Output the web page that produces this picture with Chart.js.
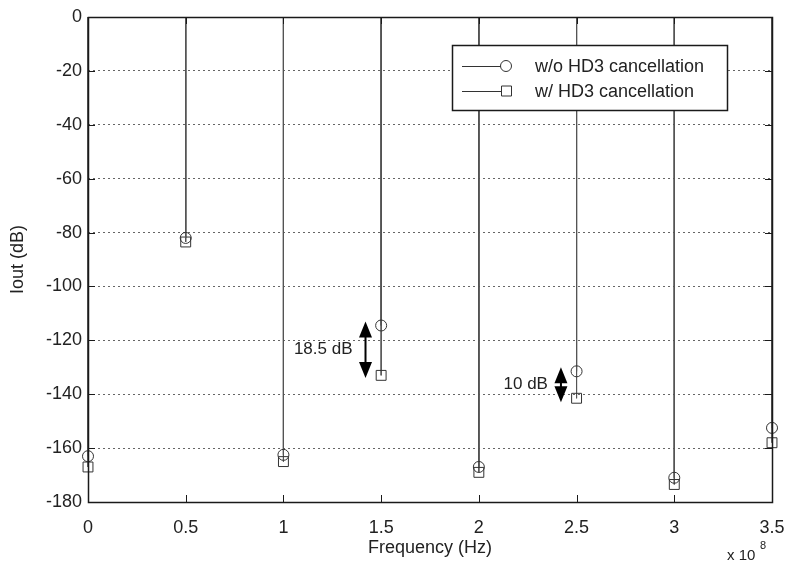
<!DOCTYPE html>
<html>
<head>
<meta charset="utf-8">
<script src="https://cdn.jsdelivr.net/npm/chart.js@4.4.0/dist/chart.umd.min.js"></script>
<style>
  body { margin: 0; background: #fff; }
  #wrap { width: 785px; height: 568px; }
</style>
</head>
<body>
<div id="wrap"><canvas id="grafica" width="785" height="568"></canvas></div>
<script>
// datos
const frecuencias = [0, 0.5e8, 1e8, 1.5e8, 2e8, 2.5e8, 3e8, 3.5e8];
const sinCancelacion = [-163, -82, -162.5, -114.5, -167, -131.5, -171, -152.5];
const conCancelacion = [-167, -83.5, -165, -133, -169, -141.5, -173.5, -158];
const nombresSeries = ['w/o HD3 cancellation', 'w/ HD3 cancellation'];
const ticksX = [0, 0.5e8, 1e8, 1.5e8, 2e8, 2.5e8, 3e8, 3.5e8];
const ticksY = [0, -20, -40, -60, -80, -100, -120, -140, -160, -180];
const notasTexto = ['18.5 dB', '10 dB'];
const notasX = [1.42e8, 2.42e8];
const notasDesde = [-113, -130];
const notasHasta = [-134, -143];

const FUENTE = 'Liberation Sans, Arial, sans-serif';
const NEGRO = '#1a1a1a';

// cada tallo: del 0 al valor, luego un hueco
function tallos(valores) {
    const pts = [];
    frecuencias.forEach((f, i) => {
        pts.push({ x: f, y: 0 }, { x: f, y: valores[i] }, { x: f, y: null });
    });
    return pts;
}

const cajaEjes = {
    id: 'cajaEjes',
    afterDatasetsDraw(chart) {
        const { ctx, chartArea: a, scales } = chart;
        ctx.save();
        ctx.strokeStyle = NEGRO;
        ctx.lineWidth = 1.5;
        ctx.strokeRect(a.left + 0.5, a.top + 0.5, a.right - a.left, a.bottom - a.top);
        ctx.lineWidth = 1;
        ticksY.forEach(v => {
            const y = Math.round(scales.y.getPixelForValue(v)) + 0.5;
            ctx.beginPath();
            ctx.moveTo(a.left, y); ctx.lineTo(a.left + 7, y);
            ctx.moveTo(a.right, y); ctx.lineTo(a.right - 7, y);
            ctx.stroke();
        });
        ticksX.forEach(v => {
            const x = Math.round(scales.x.getPixelForValue(v)) + 0.5;
            ctx.beginPath();
            ctx.moveTo(x, a.bottom); ctx.lineTo(x, a.bottom - 7);
            ctx.moveTo(x, a.top); ctx.lineTo(x, a.top + 7);
            ctx.stroke();
        });

        // flechas y textos
        notasTexto.forEach((t, i) => {
            const x = scales.x.getPixelForValue(notasX[i]);
            const y1 = scales.y.getPixelForValue(notasDesde[i]);
            const y2 = scales.y.getPixelForValue(notasHasta[i]);
            ctx.fillStyle = '#000';
            ctx.strokeStyle = '#000';
            ctx.lineWidth = 2;
            ctx.beginPath();
            ctx.moveTo(x, y1 + 12); ctx.lineTo(x, y2 - 12);
            ctx.stroke();
            ctx.beginPath();
            ctx.moveTo(x, y1); ctx.lineTo(x - 6.5, y1 + 16); ctx.lineTo(x + 6.5, y1 + 16); ctx.closePath();
            ctx.fill();
            ctx.beginPath();
            ctx.moveTo(x, y2); ctx.lineTo(x - 6.5, y2 - 16); ctx.lineTo(x + 6.5, y2 - 16); ctx.closePath();
            ctx.fill();
            ctx.font = '17px ' + FUENTE;
            ctx.fillStyle = '#222';
            ctx.textAlign = 'right';
            ctx.textBaseline = 'middle';
            ctx.fillText(t, x - 13, (y1 + y2) / 2);
        });

        // x 10^8
        ctx.fillStyle = '#222';
        ctx.textAlign = 'left';
        ctx.textBaseline = 'alphabetic';
        ctx.font = '15px ' + FUENTE;
        ctx.fillText('x 10', a.right - 45, 560);
        ctx.font = '11px ' + FUENTE;
        ctx.fillText('8', a.right - 12, 549);
        ctx.restore();
    }
};

const leyenda = {
    id: 'leyendaMatlab',
    afterDatasetsDraw(chart) {
        const { ctx, chartArea: a } = chart;
        const x0 = a.right - 320, y0 = a.top + 28, w = 275, h = 65;
        ctx.save();
        ctx.fillStyle = '#fff';
        ctx.fillRect(x0, y0, w, h);
        ctx.strokeStyle = NEGRO;
        ctx.lineWidth = 1.5;
        ctx.strokeRect(x0 + 0.5, y0 + 0.5, w, h);
        nombresSeries.forEach((nombre, i) => {
            const y = y0 + 21 + i * 25;
            ctx.strokeStyle = '#333';
            ctx.lineWidth = 1;
            ctx.beginPath();
            ctx.moveTo(x0 + 10, y + 0.5); ctx.lineTo(x0 + 54, y + 0.5);
            ctx.stroke();
            ctx.beginPath();
            if (i === 0) ctx.arc(x0 + 54, y, 5.5, 0, Math.PI * 2);
            else ctx.rect(x0 + 49.5, y - 5, 10, 10);
            ctx.fillStyle = '#fff';
            ctx.fill();
            ctx.stroke();
            ctx.fillStyle = '#222';
            ctx.font = '18px ' + FUENTE;
            ctx.textAlign = 'left';
            ctx.textBaseline = 'middle';
            ctx.fillText(nombre, x0 + 83, y + 1);
        });
        ctx.restore();
    }
};

const ctx = document.getElementById('grafica').getContext('2d');
new Chart(ctx, {
    type: 'line',
    data: {
        datasets: [{
            label: nombresSeries[0],
            data: tallos(sinCancelacion),
            borderColor: '#555',
            borderWidth: 1,
            pointStyle: 'circle',
            pointRadius: c => (c.index % 3 === 1 ? 5.5 : 0),
            pointBorderColor: '#333',
            pointBackgroundColor: 'rgba(255,255,255,0)',
            pointBorderWidth: 1,
            spanGaps: false,
            clip: false
        }, {
            label: nombresSeries[1],
            data: tallos(conCancelacion),
            borderColor: '#555',
            borderWidth: 1,
            pointStyle: 'rect',
            pointRadius: c => (c.index % 3 === 1 ? 7 : 0),
            pointBorderColor: '#333',
            pointBackgroundColor: 'rgba(255,255,255,0)',
            pointBorderWidth: 1,
            spanGaps: false,
            clip: false
        }]
    },
    options: {
        responsive: false,
        animation: false,
        layout: { padding: { left: 0, right: 13, top: 17, bottom: 0 } },
        plugins: {
            legend: { display: false },
            tooltip: { enabled: false }
        },
        scales: {
            x: {
                type: 'linear',
                min: 0,
                max: 3.5e8,
                afterBuildTicks: s => { s.ticks = ticksX.map(v => ({ value: v })); },
                afterFit: s => { s.height = 66; s.paddingLeft = 0; s.paddingRight = 0; },
                grid: { display: false },
                border: { display: false },
                ticks: {
                    maxRotation: 0,
                    autoSkip: false,
                    padding: 7,
                    color: '#222',
                    font: { size: 18, family: FUENTE },
                    callback: v => String(Math.round(v / 1e7) / 10)
                },
                title: {
                    display: true,
                    text: 'Frequency (Hz)',
                    color: '#222',
                    font: { size: 18, family: FUENTE },
                    padding: { top: 0, bottom: 9 }
                }
            },
            y: {
                min: -180,
                max: 0,
                afterBuildTicks: s => { s.ticks = ticksY.map(v => ({ value: v })); },
                afterFit: s => { s.width = 88; s.paddingTop = 0; s.paddingBottom = 0; },
                grid: {
                    color: '#666',
                    borderDash: [2, 3],
                    drawTicks: false,
                    lineWidth: c => (c.tick.value === 0 || c.tick.value === -180 ? 0 : 1)
                },
                border: { display: false, dash: [2, 3] },
                ticks: {
                    padding: 6,
                    color: '#222',
                    font: { size: 18, family: FUENTE }
                },
                title: {
                    display: true,
                    text: 'Iout (dB)',
                    color: '#222',
                    font: { size: 18, family: FUENTE },
                    padding: { top: 7, bottom: 0 }
                }
            }
        }
    },
    plugins: [cajaEjes, leyenda]
});
</script>
</body>
</html>
